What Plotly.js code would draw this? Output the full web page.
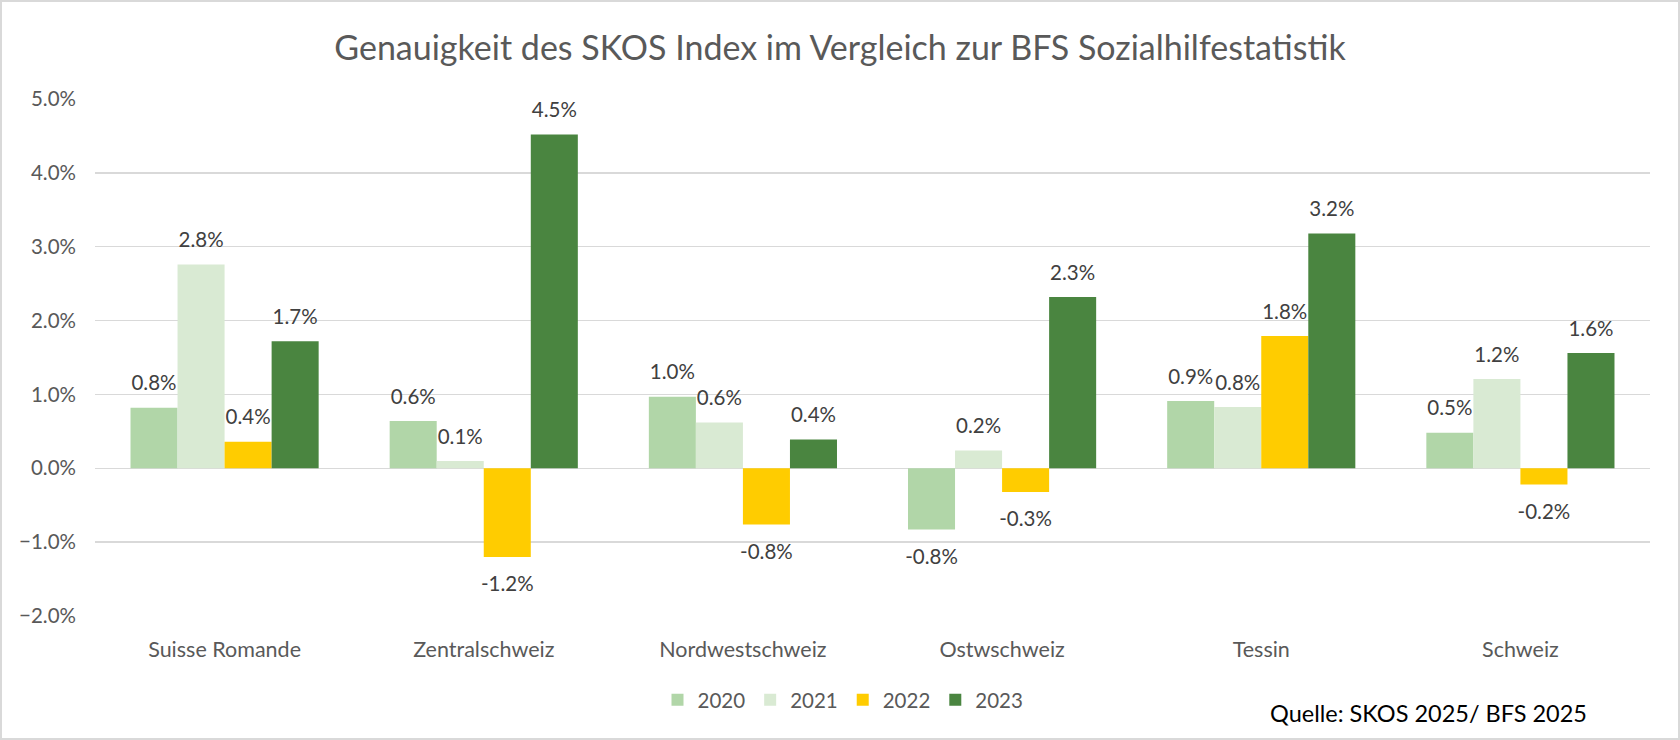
<!DOCTYPE html>
<html>
<head>
<meta charset="utf-8">
<script src="https://cdn.plot.ly/plotly-3.0.1.min.js"></script>
<style>
  html, body { margin: 0; padding: 0; background: #fff; }
  #wrap { position: relative; width: 1680px; height: 740px; }
  #chart { width: 1680px; height: 740px; }
  #frame { position: absolute; left: 0; top: 0; width: 1676px; height: 736px; border: 2px solid #D9D9D9; pointer-events: none; }
</style>
</head>
<body>
<div id="wrap"><div id="chart"></div><div id="frame"></div></div>
<script>
const categories = ["Suisse Romande", "Zentralschweiz", "Nordwestschweiz", "Ostwschweiz", "Tessin", "Schweiz"];
const years = ["2020", "2021", "2022", "2023"];
const v2020 = [0.0082, 0.0064, 0.0097, -0.0083, 0.0091, 0.0048];
const v2021 = [0.0276, 0.0010, 0.0062, 0.0024, 0.0083, 0.0121];
const v2022 = [0.0036, -0.0120, -0.0076, -0.0032, 0.0179, -0.0022];
const v2023 = [0.0172, 0.0452, 0.0039, 0.0232, 0.0318, 0.0156];
const series = [v2020, v2021, v2022, v2023];
const colors = ["#B1D6A8", "#D9EAD3", "#FFCC00", "#4A8540"];

const font = "Lato, 'Open Sans', sans-serif";
const bars = series.map((vals, i) => ({
  type: "bar",
  name: years[i],
  x: categories,
  y: vals,
  marker: { color: colors[i], line: { width: 0 } },
  hoverinfo: "x+y+name"
}));
const labels = series.map((vals, i) => ({
  type: "scatter",
  mode: "markers+text",
  name: years[i] + " label",
  showlegend: false,
  x: categories,
  y: vals,
  marker: {
    size: vals.map(v => v >= 0 ? 18 : 29),
    color: "rgba(0,0,0,0)",
    opacity: 0,
    line: { width: 0, color: "rgba(0,0,0,0)" }
  },
  texttemplate: "%{y:.1%}",
  textposition: vals.map(v => v >= 0 ? "top center" : "bottom center"),
  cliponaxis: false,
  textfont: { family: font, size: 20.5, color: "#404040" },
  hoverinfo: "skip"
}));

const L = 95, R = 1650, T = 99, B = 616;
const pw = R - L, ph = B - T;

const layout = {
  width: 1680,
  height: 740,
  margin: { l: L, r: 1680 - R, t: T, b: 740 - B },
  paper_bgcolor: "#fff",
  plot_bgcolor: "#fff",
  font: { family: font, color: "#595959" },
  title: {
    text: "Genauigkeit des SKOS Index im Vergleich zur BFS Sozialhilfestatistik",
    font: { family: font, size: 34, color: "#595959" },
    x: 0.5, xanchor: "center",
    y: 1 - 48 / 740, yanchor: "middle", yref: "container"
  },
  barmode: "group",
  bargap: 0.274,
  bargroupgap: 0,
  scattermode: "group",
  scattergap: 0.274,
  xaxis: {
    type: "category",
    showgrid: false,
    showline: false,
    zeroline: false,
    ticks: "",
    ticklabelstandoff: 18,
    tickfont: { family: font, size: 21.5, color: "#595959" }
  },
  yaxis: {
    range: [-0.02, 0.05],
    dtick: 0.01,
    tickformat: ".1%",
    showgrid: true,
    gridcolor: "#D9D9D9",
    gridwidth: 1.5,
    zeroline: true,
    zerolinecolor: "#D9D9D9",
    zerolinewidth: 1.5,
    showline: false,
    ticks: "",
    ticklabelstandoff: 18,
    tickfont: { family: font, size: 20.5, color: "#595959" }
  },
  showlegend: true,
  legend: {
    orientation: "h",
    x: (843 - L) / pw, xanchor: "center",
    y: (B - 700) / ph, yanchor: "middle",
    font: { family: font, size: 20.5, color: "#595959" },
    itemwidth: 30,
    traceorder: "normal"
  },
  annotations: [{
    text: "Quelle: SKOS 2025/ BFS 2025",
    xref: "paper", yref: "paper",
    x: (1428 - L) / pw, y: (B - 712.5) / ph,
    xanchor: "center", yanchor: "middle",
    showarrow: false,
    font: { family: font, size: 23.5, color: "#000000" }
  }]
};

Plotly.newPlot("chart", bars.concat(labels), layout, { displayModeBar: false, staticPlot: true });
</script>
</body>
</html>
